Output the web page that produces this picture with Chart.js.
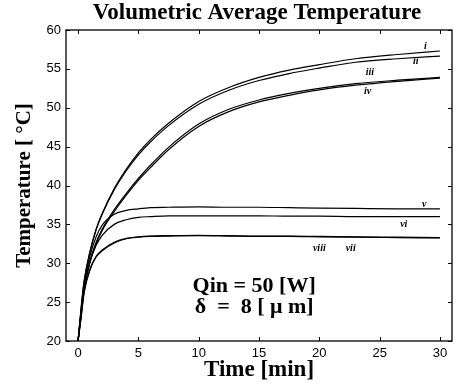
<!DOCTYPE html>
<html>
<head>
<meta charset="utf-8">
<script src="https://cdn.jsdelivr.net/npm/chart.js@4/dist/chart.umd.min.js"></script>
<style>
  html, body { margin: 0; padding: 0; background: #fff; }
  #wrap { width: 460px; height: 384px; }
</style>
</head>
<body>
<div id="wrap"><canvas id="tempChart" width="460" height="384"></canvas></div>
<script>
// Time samples [min]
const time = [0, 0.25, 0.5, 1, 1.5, 2, 3, 4, 5, 6, 7.5, 10, 12.5, 15, 17.5, 20, 23, 26.5, 30];

// Volumetric average temperature [°C] per case
const caseI    = [20, 24.2, 27.7, 31.6, 34.4, 36.4, 39.6, 42.1, 44.2, 45.9, 48.0, 50.8, 52.6, 53.9, 54.85, 55.55, 56.3, 56.85, 57.3];
const caseII   = [20, 24.1, 27.6, 31.5, 34.3, 36.3, 39.45, 41.9, 43.95, 45.6, 47.7, 50.45, 52.25, 53.5, 54.4, 55.1, 55.85, 56.3, 56.65];
const caseIII  = [20, 23.6, 26.8, 30.4, 32.7, 34.4, 36.9, 39.0, 40.9, 42.6, 44.9, 47.9, 49.8, 51.0, 51.85, 52.5, 53.1, 53.55, 53.9];
const caseIV   = [20, 23.5, 26.6, 30.2, 32.5, 34.2, 36.65, 38.75, 40.65, 42.3, 44.6, 47.6, 49.5, 50.75, 51.6, 52.3, 52.9, 53.4, 53.8];
const caseV    = [20, 23.8, 27.2, 31.0, 33.4, 34.9, 36.3, 36.8, 37.0, 37.15, 37.2, 37.25, 37.2, 37.2, 37.15, 37.1, 37.05, 37.0, 37.0];
const caseVI   = [20, 23.6, 26.8, 30.2, 32.3, 33.6, 35.0, 35.6, 35.9, 36.0, 36.1, 36.1, 36.1, 36.1, 36.05, 36.05, 36.0, 36.0, 36.0];
const caseVII  = [20, 23.0, 26.3, 29.3, 30.9, 31.7, 32.7, 33.2, 33.4, 33.5, 33.55, 33.6, 33.55, 33.5, 33.5, 33.45, 33.4, 33.35, 33.3];
const caseVIII = [20, 23.0, 26.2, 29.2, 30.8, 31.6, 32.6, 33.15, 33.35, 33.45, 33.5, 33.55, 33.5, 33.45, 33.45, 33.4, 33.35, 33.3, 33.25];

const seriesList = [caseI, caseII, caseIII, caseIV, caseV, caseVI, caseVII, caseVIII];

// Curve labels and where they sit (time, temperature)
const curveNames = ['i', 'ii', 'iii', 'iv', 'v', 'vi', 'vii', 'viii'];
const curveLabelX = [28.8, 28.0, 24.2, 24.0, 28.7, 27.0, 22.6, 20.0];
const curveLabelY = [57.9, 56.0, 54.5, 52.1, 37.6, 35.0, 31.9, 31.9];

// Notes inside the plot
const noteLines = ['Qin = 50 [W]', 'δ  =  8 [ μ m]'];
const noteX = [14.6, 14.6];
const noteY = [27.0, 24.3];

const chartTitle = 'Volumetric Average Temperature';
const xTicks = [0, 5, 10, 15, 20, 25, 30];
const yTicks = [20, 25, 30, 35, 40, 45, 50, 55, 60];

const serif = "'Liberation Serif', 'Times New Roman', serif";
const sans = "Arial, 'Liberation Sans', Helvetica, sans-serif";

// title, box, inward ticks, curve labels, notes
const decorPlugin = {
  id: 'decor',
  afterDraw(chart) {
    const ctx = chart.ctx;
    const a = chart.chartArea;
    const xs = chart.scales.x, ys = chart.scales.y;
    ctx.save();
    ctx.fillStyle = '#000';
    ctx.textAlign = 'center';
    ctx.textBaseline = 'alphabetic';
    ctx.font = 'bold 23px ' + serif;
    ctx.fillText(chartTitle, (a.left + a.right) / 2 - 2, 19);

    ctx.strokeStyle = '#000';
    ctx.lineWidth = 1.3;
    ctx.strokeRect(a.left, a.top, a.right - a.left, a.bottom - a.top);
    ctx.lineWidth = 1;
    ctx.beginPath();
    xTicks.forEach(v => {
      const px = Math.round(xs.getPixelForValue(v)) + 0.5;
      ctx.moveTo(px, a.bottom); ctx.lineTo(px, a.bottom - 4);
      ctx.moveTo(px, a.top); ctx.lineTo(px, a.top + 4);
    });
    yTicks.forEach(v => {
      const py = Math.round(ys.getPixelForValue(v)) + 0.5;
      ctx.moveTo(a.left, py); ctx.lineTo(a.left + 4, py);
      ctx.moveTo(a.right, py); ctx.lineTo(a.right - 4, py);
    });
    ctx.stroke();

    ctx.textBaseline = 'middle';
    ctx.font = 'italic bold 10px ' + serif;
    curveNames.forEach((n, i) => {
      ctx.fillText(n, xs.getPixelForValue(curveLabelX[i]), ys.getPixelForValue(curveLabelY[i]));
    });
    ctx.font = 'bold 22px ' + serif;
    noteLines.forEach((s, i) => {
      ctx.fillText(s, xs.getPixelForValue(noteX[i]), ys.getPixelForValue(noteY[i]));
    });
    ctx.restore();
  }
};

const datasets = seriesList.map((s, i) => ({
  label: curveNames[i],
  data: time.map((t, k) => ({ x: t, y: s[k] })),
  borderColor: '#000',
  borderWidth: 1.2,
  pointRadius: 0,
  fill: false,
  cubicInterpolationMode: 'monotone'
}));

new Chart(document.getElementById('tempChart'), {
  type: 'line',
  data: { datasets },
  options: {
    responsive: false,
    animation: false,
    layout: { padding: { left: 0, right: 8, top: 30, bottom: 0 } },
    plugins: {
      legend: { display: false },
      tooltip: { enabled: false },
      title: { display: false }
    },
    scales: {
      x: {
        type: 'linear',
        min: -1,
        max: 31,
        grid: { display: false, drawTicks: false },
        border: { display: false },
        afterBuildTicks: s => { s.ticks = xTicks.map(v => ({ value: v })); },
        ticks: { color: '#000', font: { family: sans, size: 13 }, padding: 5 },
        title: {
          display: true,
          text: 'Time [min]',
          color: '#000',
          font: { family: serif, size: 23, weight: 'bold' },
          padding: { top: 0, bottom: 0 }
        },
        afterFit: s => { s.height = 43; }
      },
      y: {
        min: 20,
        max: 60,
        grid: { display: false, drawTicks: false },
        border: { display: false },
        afterBuildTicks: s => { s.ticks = yTicks.map(v => ({ value: v })); },
        ticks: { color: '#000', font: { family: sans, size: 13 }, padding: 5 },
        title: {
          display: true,
          text: 'Temperature [ °C]',
          color: '#000',
          font: { family: serif, size: 21, weight: 'bold' },
          padding: { top: 12, bottom: 0 }
        },
        afterFit: s => { s.width = 66; }
      }
    }
  },
  plugins: [decorPlugin]
});
</script>
</body>
</html>
